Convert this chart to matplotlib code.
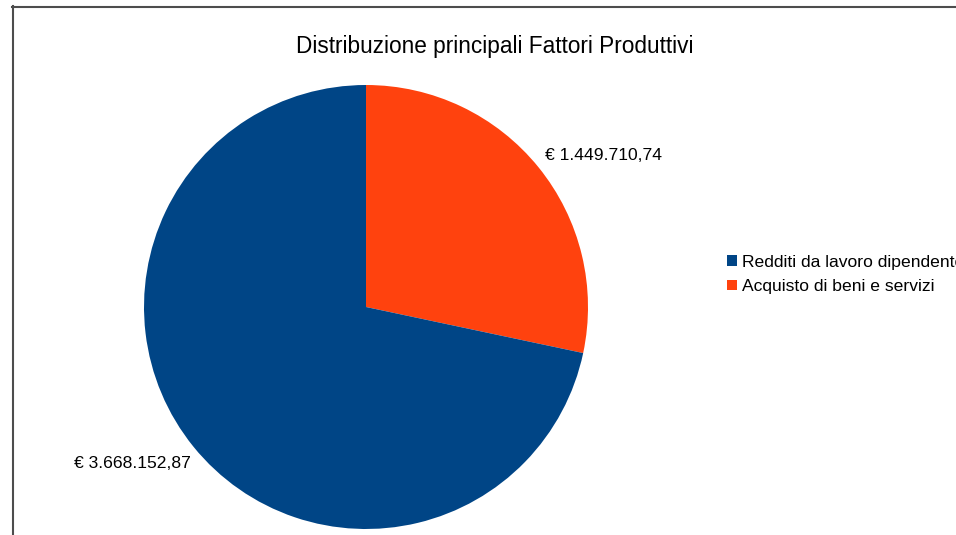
import matplotlib.pyplot as plt
from matplotlib.patches import Patch
from matplotlib.lines import Line2D

plt.rcParams['font.family'] = ['Liberation Sans', 'DejaVu Sans']

# Data
categories = ['Redditi da lavoro dipendente', 'Acquisto di beni e servizi']
values = [3668152.87, 1449710.74]
value_labels = ['€ 3.668.152,87', '€ 1.449.710,74']
colors = ['#004586', '#ff420e']

W, H = 956, 535
fig = plt.figure(figsize=(W / 100, H / 100), dpi=100)
ax = fig.add_axes([0, 0, 1, 1])

# orange slice drawn first from the top, going clockwise
order = [1, 0]
ax.pie([values[i] for i in order], colors=[colors[i] for i in order],
       startangle=90, counterclock=False, center=(366, H - 307), radius=222,
       wedgeprops=dict(linewidth=0))
ax.set_xlim(0, W)
ax.set_ylim(0, H)
ax.set_aspect('equal')
ax.axis('off')

# value labels
ax.text(545, H - 155, value_labels[1], fontsize=12.6, ha='left', va='center')
ax.text(74, H - 463, value_labels[0], fontsize=12.6, ha='left', va='center')

# title
fig.text(495 / W, 1 - 47 / H, 'Distribuzione principali Fattori Produttivi',
         fontsize=16.3, ha='center', va='center')

# legend (first entry runs past the right edge, as in the original)
handles = [Patch(facecolor=c, edgecolor='none') for c in colors]
fig.legend(handles, categories, loc='upper left',
           bbox_to_anchor=(727 / W, 1 - 255 / H), frameon=False,
           fontsize=12.6, handlelength=0.57, handleheight=0.57,
           handletextpad=0.29, labelspacing=0.53, borderpad=0, borderaxespad=0)

# frame lines (left and top)
fig.add_artist(Line2D([12.5 / W, 12.5 / W], [0, 1 - 6 / H],
                      transform=fig.transFigure, color='#4d4d4d', lw=1.5))
fig.add_artist(Line2D([12 / W, 1], [1 - 6.5 / H, 1 - 6.5 / H],
                      transform=fig.transFigure, color='#4d4d4d', lw=1.5))

fig.savefig('out.png', dpi=100)
